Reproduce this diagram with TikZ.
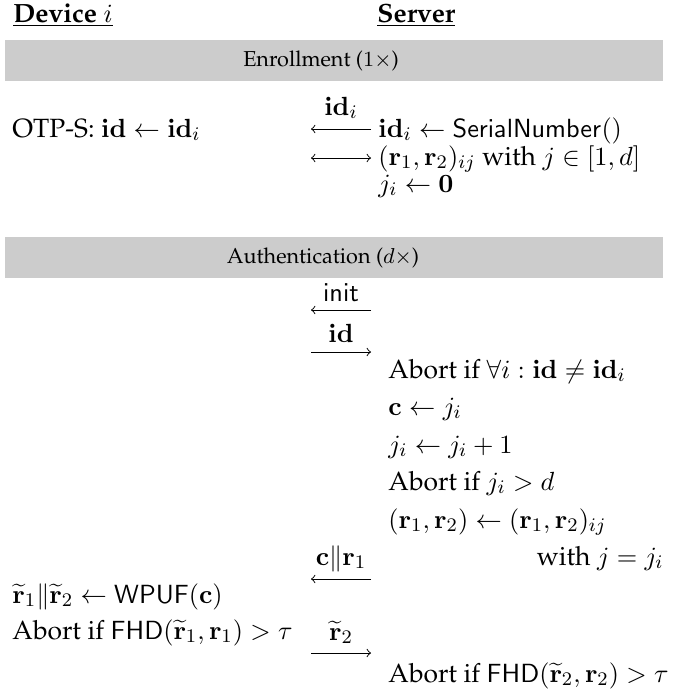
\documentclass[tikz,border=0pt]{standalone}
\usepackage[T1]{fontenc}
\renewcommand{\rmdefault}{ppl}
\begin{document}
\begin{tikzpicture}[x=0.41667pt,y=-0.41667pt,
  every node/.style={font=\fontsize{11}{13.5}\selectfont},
  txt/.style={anchor=base west, inner sep=0pt},
  txtr/.style={anchor=base east, inner sep=0pt},
  lab/.style={anchor=base, inner sep=0pt},
  bandtxt/.style={inner sep=0pt, font=\fontsize{9}{11}\selectfont},
  band/.style={fill=black!20, draw=none},
  msg/.style={-to, line width=0.4pt},
  msgboth/.style={to-to, line width=0.4pt}]
\useasboundingbox (0,0) rectangle (684,690);
% headers
\node[txt] (dev) at (13,22) {\underline{\textbf{Device} $i$}};
\node[txt] (srv) at (377,22) {\underline{\textbf{Server}}};
% enrollment band
\fill[band] (5,40) rectangle (663,81);
\node[bandtxt] (enr) at (321,60.5) {Enrollment ($1\times$)};
% enrollment rows
\node[txt] (otp) at (12,137) {OTP-S: $\mathbf{id} \leftarrow \mathbf{id}_i$};
\node[txt] (s1) at (378,137) {$\mathbf{id}_i \leftarrow \mathsf{SerialNumber}()$};
\node[txt] (s2) at (378,165) {$(\mathbf{r}_1,\mathbf{r}_2)_{ij}$ with $j\in[1,d]$};
\node[txt] (s3) at (378,192) {$j_i \leftarrow \mathbf{0}$};
\coordinate (m1l) at (311,129); \coordinate (m1r) at (371,129);
\node[lab] (l1) at (341,115) {$\mathbf{id}_i$};
\draw[msg] (m1r) -- (m1l);
\coordinate (m2l) at (311,158); \coordinate (m2r) at (371,158);
\draw[msgboth] (m2l) -- (m2r);
% authentication band
\fill[band] (5,237) rectangle (663,278);
\node[bandtxt] (auth) at (323,257.5) {Authentication ($d\times$)};
% init
\node[lab] (l3) at (341,301) {$\mathsf{init}$};
\coordinate (m3l) at (311,310); \coordinate (m3r) at (371,310);
\draw[msg] (m3r) -- (m3l);
% id
\node[lab] (l4) at (341,342) {$\mathbf{id}$};
\coordinate (m4l) at (311,352); \coordinate (m4r) at (371,352);
\draw[msg] (m4l) -- (m4r);
% server steps
\node[txt] (a1) at (388,378) {Abort if $\forall i: \mathbf{id} \neq \mathbf{id}_i$};
\node[txt] (a2) at (388,415) {$\mathbf{c} \leftarrow j_i$};
\node[txt] (a3) at (388,453) {$j_i \leftarrow j_i + 1$};
\node[txt] (a4) at (388,490) {Abort if $j_i > d$};
\node[txt] (a5) at (388,528) {$(\mathbf{r}_1,\mathbf{r}_2) \leftarrow (\mathbf{r}_1,\mathbf{r}_2)_{ij}$};
\node[txtr] (a6) at (664,565) {with $j = j_i$};
% c||r1
\node[lab] (l5) at (341,565) {$\mathbf{c}\|\mathbf{r}_1$};
\coordinate (m5l) at (311,579); \coordinate (m5r) at (371,579);
\draw[msg] (m5r) -- (m5l);
% device steps
\node[txt] (d1) at (12,603) {$\widetilde{\mathbf{r}}_1\|\widetilde{\mathbf{r}}_2 \leftarrow \mathsf{WPUF}(\mathbf{c})$};
\node[txt] (d2) at (12,639) {Abort if $\mathsf{FHD}(\widetilde{\mathbf{r}}_1,\mathbf{r}_1) > \tau$};
% r2 tilde
\node[lab] (l6) at (341,640) {$\widetilde{\mathbf{r}}_2$};
\coordinate (m6l) at (311,653); \coordinate (m6r) at (371,653);
\draw[msg] (m6l) -- (m6r);
\node[txt] (a7) at (388,682) {Abort if $\mathsf{FHD}(\widetilde{\mathbf{r}}_2,\mathbf{r}_2) > \tau$};
\end{tikzpicture}
\end{document}
